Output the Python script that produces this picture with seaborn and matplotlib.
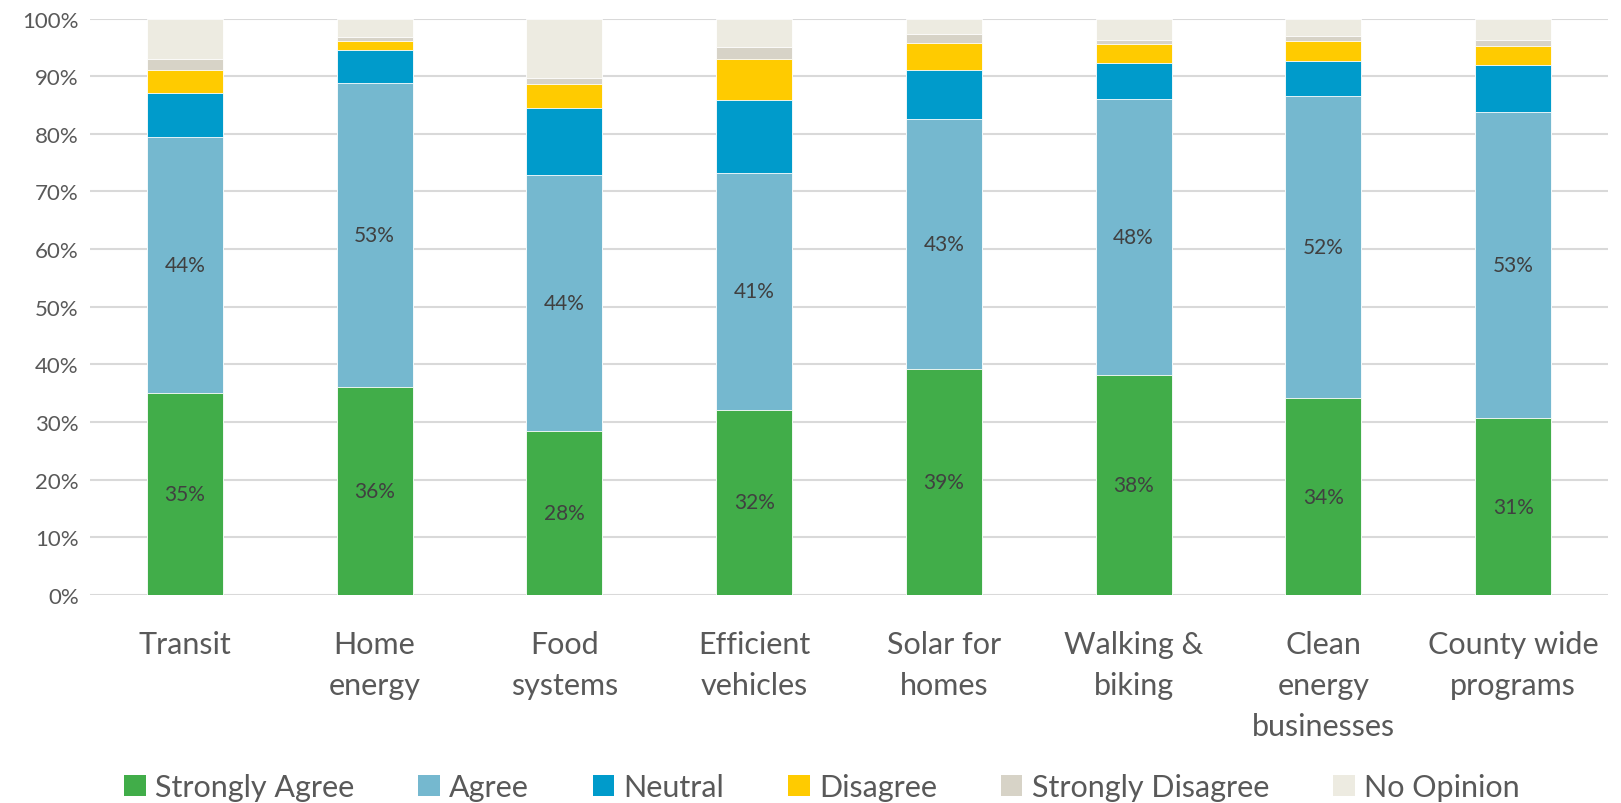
import matplotlib
matplotlib.use("Agg")
import matplotlib.pyplot as plt
from matplotlib.patches import Patch
import numpy as np
import pandas as pd
import seaborn as sns

categories = ["Transit", "Home\nenergy", "Food\nsystems", "Efficient\nvehicles",
              "Solar for\nhomes", "Walking &\nbiking", "Clean\nenergy\nbusinesses",
              "County wide\nprograms"]

strongly_agree    = [35.1, 36.1, 28.4, 32.1, 39.2, 38.2, 34.1, 30.7]
agree             = [44.4, 52.7, 44.4, 41.1, 43.3, 47.9, 52.4, 53.1]
neutral           = [7.5, 5.7, 11.7, 12.7, 8.6, 6.2, 6.1, 8.2]
disagree          = [4.1, 1.6, 4.1, 7.0, 4.7, 3.2, 3.5, 3.2]
strongly_disagree = [1.9, 0.7, 1.1, 2.1, 1.6, 0.8, 0.9, 1.1]
no_opinion        = [7.0, 3.2, 10.3, 5.0, 2.6, 3.7, 3.0, 3.7]

series_names = ["Strongly Agree", "Agree", "Neutral", "Disagree",
                "Strongly Disagree", "No Opinion"]
series_values = [strongly_agree, agree, neutral, disagree,
                 strongly_disagree, no_opinion]
colors = ["#41AD49", "#75B8CF", "#009BCB", "#FFCB00", "#D7D3C7", "#EDEBE1"]

yticks = [0, 10, 20, 30, 40, 50, 60, 70, 80, 90, 100]
ytick_labels = [f"{v}%" for v in yticks]

TEXT = "#595959"

sns.set_theme(style="white")
plt.rcParams["font.family"] = ["Lato", "DejaVu Sans"]

fig = plt.figure(figsize=(16.21, 8.04), dpi=100)
ax = fig.add_axes([0.0555, 0.2587, 0.9365, 0.717])

# Stacked shares: draw cumulative totals from the top segment down
vals = np.array(series_values)
cum = np.cumsum(vals, axis=0)
for i in range(len(series_names) - 1, -1, -1):
    df = pd.DataFrame({"category": categories, "value": cum[i]})
    sns.barplot(data=df, x="category", y="value", color=colors[i],
                width=0.40, saturation=1, edgecolor="white", linewidth=0.6,
                ax=ax, zorder=2)

# Percentage labels on the two agree segments
for j in range(len(categories)):
    sa = strongly_agree[j]
    ag = agree[j]
    ax.text(j, sa / 2, f"{sa:.0f}%", ha="center", va="center",
            fontsize=15, color="#404040", zorder=3)
    ax.text(j, sa + ag / 2, f"{ag:.0f}%", ha="center", va="center",
            fontsize=15, color="#404040", zorder=3)

ax.set_xlim(-0.5, len(categories) - 0.5)
ax.set_ylim(0, 100)
ax.set_yticks(yticks)
ax.set_yticklabels(ytick_labels, fontsize=16, color=TEXT)
ax.set_xticks(range(len(categories)))
ax.set_xticklabels(categories, fontsize=22, color=TEXT, linespacing=1.58,
                   va="top")
ax.tick_params(axis="both", length=0)
ax.tick_params(axis="x", pad=25)
ax.tick_params(axis="y", pad=8)
ax.set_xlabel("")
ax.set_ylabel("")
ax.yaxis.grid(True, color="#D9D9D9", linewidth=1.5, zorder=0)
ax.set_axisbelow(True)
for s in ax.spines.values():
    s.set_visible(False)

handles = [Patch(facecolor=c, edgecolor="none", label=n)
           for n, c in zip(series_names, colors)]
leg = fig.legend(handles=handles, loc="center", bbox_to_anchor=(0.507, 0.02),
                 ncol=6, frameon=False, fontsize=22, handlelength=0.7,
                 handleheight=0.7, handletextpad=0.3, columnspacing=2.1)
for t in leg.get_texts():
    t.set_color(TEXT)

fig.savefig("out.png", dpi=100)
